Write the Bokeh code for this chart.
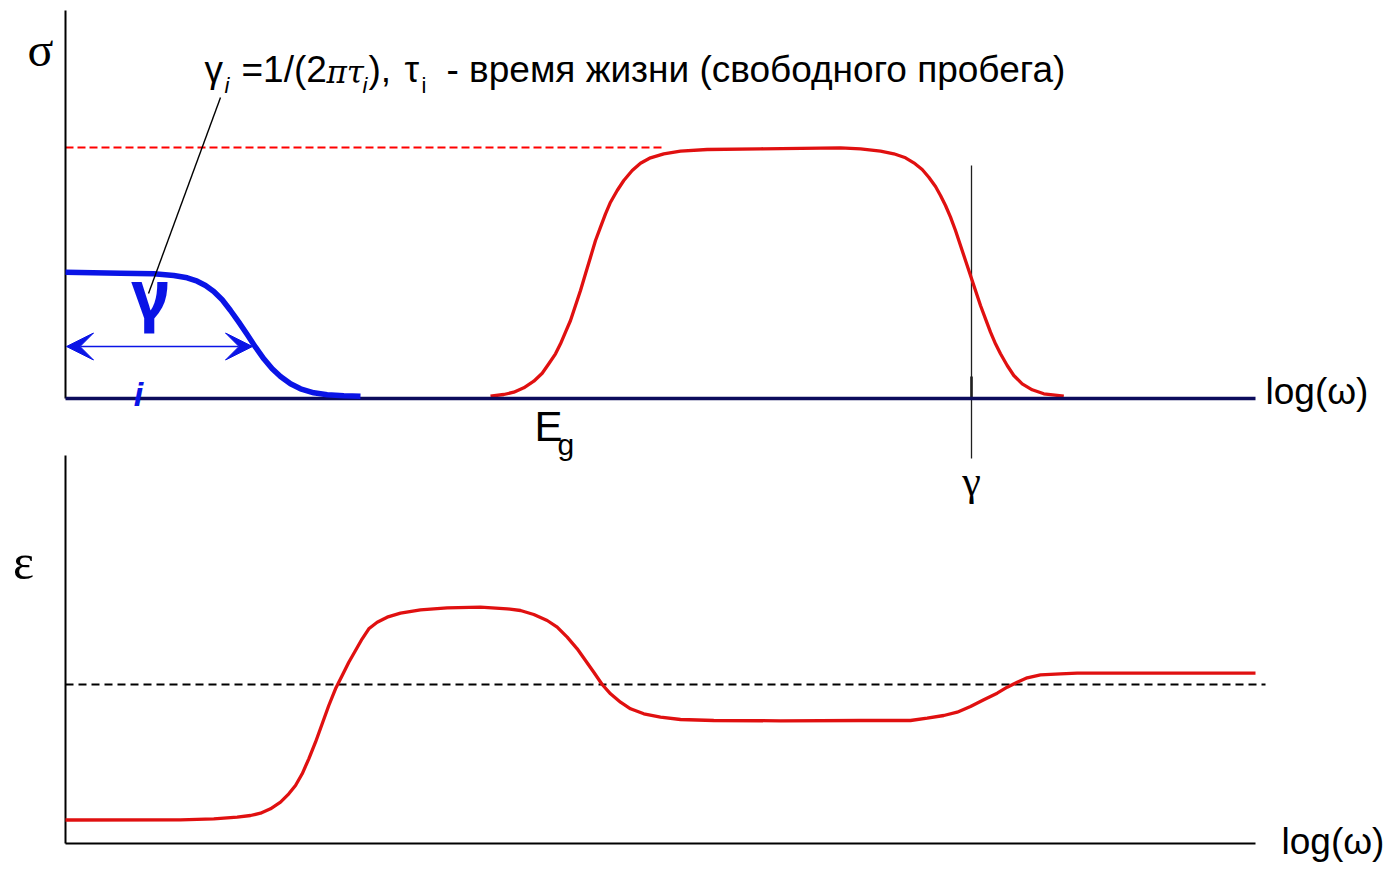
from bokeh.plotting import figure
from bokeh.models import Range1d, Arrow, VeeHead
from bokeh.core.properties import value
from bokeh.embed import file_html
from bokeh.resources import INLINE

W, H = 1387, 872
NARROW = "'Liberation Sans Narrow', 'Liberation Sans', sans-serif"
SANS = "'Liberation Sans', sans-serif"
SERIF = "'Liberation Serif', serif"
DSERIF = "'DejaVu Serif', serif"

RED = "#e01010"
BLUE = "#0a14e6"
NAVY = "#0c0c5c"

# --- conductivity sigma(log w): free-carrier (Drude) part, blue ---
sigma_free_x = [65, 120, 153.3, 173.3, 186.7, 196.7, 205, 213.3, 221.7, 230, 238.3, 246.7,
                255, 263.3, 271.7, 280, 290, 300, 313.3, 326.7, 343.3, 360]
sigma_free_y = [271.7, 272.7, 273.3, 275, 277.3, 280.7, 285, 291, 299.3, 310, 321.7, 334,
                346.7, 358.3, 368.3, 376, 383.3, 388.3, 392.3, 394.3, 395.3, 395.7]

# --- conductivity sigma(log w): interband absorption band, red ---
sigma_band_x = [490, 503.3, 513.3, 523.3, 533.3, 541.7, 548.3, 555, 560, 565, 570, 575, 580,
                585, 590, 595, 600, 605, 610, 616.7, 623.3, 631.7, 640, 650, 663.3, 680,
                706.7, 760, 840, 860, 880, 893.3, 905, 913.3, 921.7, 928.3, 935, 940, 945,
                950, 955, 960, 965, 970, 975, 980, 985, 990, 995, 1000, 1006.7, 1013.3,
                1021.7, 1031.7, 1043.3, 1063.3]
sigma_band_y = [395.7, 394, 391.7, 387.3, 380.7, 372.7, 363.3, 353.3, 343.3, 331.7, 320, 305,
                290, 273.3, 256.7, 240, 226.7, 213.3, 201.7, 190, 180, 170, 162.7, 157.3,
                153.3, 150.7, 149, 148.3, 147.3, 148.3, 150.7, 153.3, 157.3, 162.3, 169,
                176.7, 186, 195, 205, 216.7, 230, 245, 260, 275, 290, 305, 318.3, 331.7,
                343.3, 353.3, 365, 375, 383.3, 389.3, 393.3, 395.7]
sigma_max_level = 147

# --- permittivity eps(log w) ---
eps_x = [65, 180, 213.3, 236.7, 250, 260, 270, 280, 288.3, 295, 301.7, 308.3, 315, 321.7,
         328.3, 335, 341.7, 348.3, 355, 361.7, 368.3, 376.7, 386.7, 400, 420, 446.7, 480,
         506.7, 520, 533.3, 546.7, 556.7, 566.7, 576.7, 585, 593.3, 601.7, 610, 620, 630,
         643.3, 660, 680, 713.3, 780, 860, 910, 926.7, 943.3, 956.7, 970, 983.3, 996.7,
         1006.7, 1016.7, 1026.7, 1040, 1060, 1076.7, 1255]
eps_y = [819.5, 819.3, 818.3, 816.7, 815, 812.7, 808.3, 801.7, 793.3, 785, 773.3, 758.3,
         741.7, 723.3, 705, 688.3, 675, 661.7, 650, 638.3, 628.3, 621.7, 616.7, 612.7, 609.3,
         607.3, 606.7, 608.3, 610, 614, 620, 626.7, 636.7, 648.3, 660, 671.7, 684, 693.3,
         701.7, 708.3, 713.3, 716.7, 719, 720, 720.3, 720, 720, 717.7, 715, 711.7, 706,
         699.3, 692.7, 686.7, 681.7, 677.3, 674.3, 673.3, 672.7, 672.7]
eps_ref_level = 684

# axes frames (origin positions of the two panels)
top_origin = (65, 398)
top_top = 10
bot_origin = (65, 843)
bot_top = 455
x_end = 1255

# characteristic frequencies
gamma_x = 971
eg_x = 534
free_width_x = (66, 252)
free_width_y = 346

p = figure(width=W, height=H, output_backend="svg", toolbar_location=None,
           x_range=Range1d(0, W), y_range=Range1d(H, 0), min_border=0)
p.axis.visible = False
p.grid.visible = False
p.outline_line_color = None
p.background_fill_color = "white"
p.border_fill_color = "white"

# reference levels
p.line([top_origin[0], 662], [sigma_max_level] * 2, line_color="#ff0000", line_width=2,
       line_dash="8 4")
p.line([bot_origin[0], 1265], [eps_ref_level] * 2, line_color="black", line_width=1.8,
       line_dash="8 5")

# axes
p.line([top_origin[0], top_origin[0]], [top_top, top_origin[1]], line_color="black", line_width=2)
p.line([bot_origin[0], bot_origin[0]], [bot_top, bot_origin[1]], line_color="black", line_width=2)
p.line([bot_origin[0], x_end], [bot_origin[1], bot_origin[1]], line_color="black", line_width=2)

# gamma marker line
p.line([gamma_x, gamma_x], [165, 458], line_color="#202020", line_width=1.3)
p.line([gamma_x, gamma_x], [376, 398], line_color="#202020", line_width=2.6)

# curves
p.line(sigma_band_x, sigma_band_y, line_color=RED, line_width=3.3, line_join="round")
p.line([top_origin[0], x_end], [top_origin[1], top_origin[1]], line_color=NAVY, line_width=3.5)
p.line(sigma_free_x, sigma_free_y, line_color=BLUE, line_width=5.5, line_join="round")
p.line(eps_x, eps_y, line_color=RED, line_width=3.3, line_join="round")

# width of the free-carrier response
p.add_layout(Arrow(x_start=free_width_x[0], y_start=free_width_y,
                   x_end=free_width_x[1], y_end=free_width_y,
                   line_color=BLUE, line_width=1.3,
                   start=VeeHead(size=27, fill_color=BLUE, line_color=BLUE),
                   end=VeeHead(size=27, fill_color=BLUE, line_color=BLUE)))

# leader line from annotation
p.line([220, 148], [97, 293], line_color="black", line_width=1.4)


def label(x, y, s, font=NARROW, size=36, color="black", style="normal", align="left"):
    # y is the desired baseline; the svg text sits ~0.38em lower than requested
    p.text(x=[x], y=[y - 0.38 * size], text=[s], text_font=value(font),
           text_font_size=f"{size}px", text_color=color, text_font_style=style,
           text_align=align, text_baseline="alphabetic")


label(40, 67, "σ", font=SERIF, size=48, align="center")
label(23, 580, "ε", font=SERIF, size=50, align="center")
label(1265, 405, "log(ω)", size=37)
label(1281, 855, "log(ω)", size=37)
label(eg_x, 442, "E", size=42)
label(eg_x + 23, 455, "g", size=30)
label(gamma_x, 496, "γ", font=SERIF, size=42, align="center")

# big gamma and index i for the free-carrier part
label(150, 318, "γ", font="'Noto Sans', sans-serif", size=68, color=BLUE, style="bold",
      align="center")
label(138, 406, "i", font=SANS, size=34, color=BLUE, style="bold italic", align="center")

# annotation line
label(204, 83, "γ", size=37)
label(224, 93, "i", size=22, style="italic")
label(241, 83, "=1/(2", size=37)
label(326, 83, "πτ", font=DSERIF, size=31, style="italic")
label(362, 93, "i", size=22, style="italic")
label(368, 83, "),", size=37)
label(404, 83, "τ", size=37)
label(421, 93, "i", size=22)
label(446, 83, "- время жизни (свободного пробега)", size=37)

open("out.html", "w").write(file_html(p, INLINE))
